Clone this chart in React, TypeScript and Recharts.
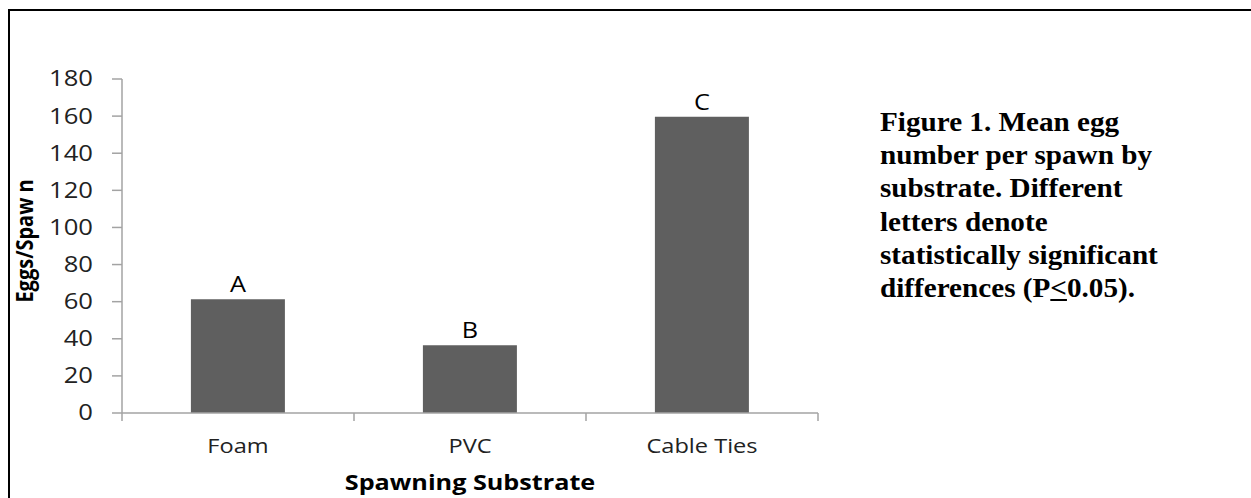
import React from 'react';
import { BarChart, Bar, XAxis, YAxis, LabelList } from 'recharts';

const categories = ['Foam', 'PVC', 'Cable Ties'];
const eggsPerSpawn = [61.3, 36.5, 159.6];
const sigLetters = ['A', 'B', 'C'];
const yTicks = [0, 20, 40, 60, 80, 100, 120, 140, 160, 180];
const captionLines = [
  'Figure 1. Mean egg',
  'number per spawn by',
  'substrate. Different',
  'letters denote',
  'statistically significant',
];

const data = categories.map((name, i) => ({ name, eggs: eggsPerSpawn[i], letter: sigLetters[i] }));

const AXIS = '#a3a3a3';
const FONT = '"Open Sans", "Liberation Sans", sans-serif';
const X_TICK_MARGIN = 40;
const X_TICK_LEN = 8;

const YTick = (props: any) => {
  const { x, y, payload } = props;
  return (
    <g transform={`translate(${x},${y})`}>
      <text transform="scale(1.22,1)" textAnchor="end" dy="0.355em" fill="#222" fontSize={21} fontFamily={FONT}>
        {payload.value}
      </text>
    </g>
  );
};

const XTick = (props: any) => {
  const { x, y, payload, index, visibleTicksCount } = props;
  const half = payload && typeof payload.offset === 'number' ? payload.offset : 0;
  const axisY = y - X_TICK_MARGIN;
  return (
    <g>
      {half > 0 && (
        <line x1={x - half} x2={x - half} y1={axisY} y2={axisY + X_TICK_LEN} stroke={AXIS} strokeWidth={1.5} />
      )}
      {half > 0 && index === visibleTicksCount - 1 && (
        <line x1={x + half} x2={x + half} y1={axisY} y2={axisY + X_TICK_LEN} stroke={AXIS} strokeWidth={1.5} />
      )}
      <g transform={`translate(${x},${y})`}>
        <text transform="scale(1.18,1)" textAnchor="middle" fill="#222" fontSize={20} fontFamily={FONT}>
          {payload.value}
        </text>
      </g>
    </g>
  );
};

const LetterLabel = (props: any) => {
  const { x, y, width, value } = props;
  return (
    <g transform={`translate(${x + width / 2},${y - 7})`}>
      <text transform="scale(1.15,1)" textAnchor="middle" fill="#000" fontSize={22} fontFamily={FONT}>
        {value}
      </text>
    </g>
  );
};

const YTitle = (props: any) => {
  const vb = props.viewBox || { x: 62, y: 79, width: 60, height: 334 };
  const cx = vb.x - 29;
  const cy = vb.y + vb.height / 2 - 5;
  return (
    <g transform={`translate(${cx},${cy}) scale(1.15,1) rotate(-90)`}>
      <text textAnchor="middle" fill="#000" fontSize={20} fontWeight="bold" fontFamily={FONT}>
        Eggs/Spaw n
      </text>
    </g>
  );
};

const XTitle = (props: any) => {
  const vb = props.viewBox || { x: 122, y: 413, width: 696, height: 30 };
  const cx = vb.x + vb.width / 2;
  return (
    <g transform={`translate(${cx},490) scale(1.2,1)`}>
      <text textAnchor="middle" fill="#000" fontSize={21} fontWeight="bold" fontFamily={FONT}>
        Spawning Substrate
      </text>
    </g>
  );
};

export default function App() {
  return (
    <div style={{ position: 'fixed', left: 0, top: 0, width: 1251, height: 498, overflow: 'hidden', background: '#fff' }}>
      <div
        style={{
          position: 'absolute',
          left: 8,
          top: 9,
          width: 1260,
          height: 520,
          borderTop: '2px solid #000',
          borderLeft: '2px solid #000',
        }}
      />
      <div style={{ position: 'absolute', left: 0, top: 0 }}>
        <BarChart
          width={1251}
          height={498}
          data={data}
          margin={{ top: 79, right: 433, bottom: 55, left: 62 }}
          barCategoryGap="29.7%"
        >
          <XAxis
            dataKey="name"
            height={30}
            interval={0}
            tickSize={0}
            tickMargin={X_TICK_MARGIN}
            tickLine={false}
            axisLine={{ stroke: AXIS, strokeWidth: 1.5 }}
            tick={<XTick />}
            label={<XTitle />}
          />
          <YAxis
            width={60}
            domain={[0, 180]}
            ticks={yTicks}
            interval={0}
            tickSize={10}
            tickMargin={19}
            axisLine={{ stroke: AXIS, strokeWidth: 1.5 }}
            tickLine={{ stroke: AXIS, strokeWidth: 1.5 }}
            tick={<YTick />}
            label={<YTitle />}
          />
          <Bar dataKey="eggs" fill="#5f5f5f" isAnimationActive={false}>
            <LabelList dataKey="letter" content={<LetterLabel />} />
          </Bar>
        </BarChart>
      </div>
      <div
        style={{
          position: 'absolute',
          left: 880,
          top: 106,
          fontFamily: '"Liberation Serif", "Times New Roman", serif',
          fontWeight: 'bold',
          fontSize: 27,
          lineHeight: '33.2px',
          color: '#000',
          transform: 'scaleX(1.08)',
          transformOrigin: 'left top',
          whiteSpace: 'nowrap',
        }}
      >
        {captionLines.map((l) => (
          <div key={l}>{l}</div>
        ))}
        <div>
          differences (P<span style={{ textDecoration: 'underline' }}>&lt;</span>0.05).
        </div>
      </div>
    </div>
  );
}
